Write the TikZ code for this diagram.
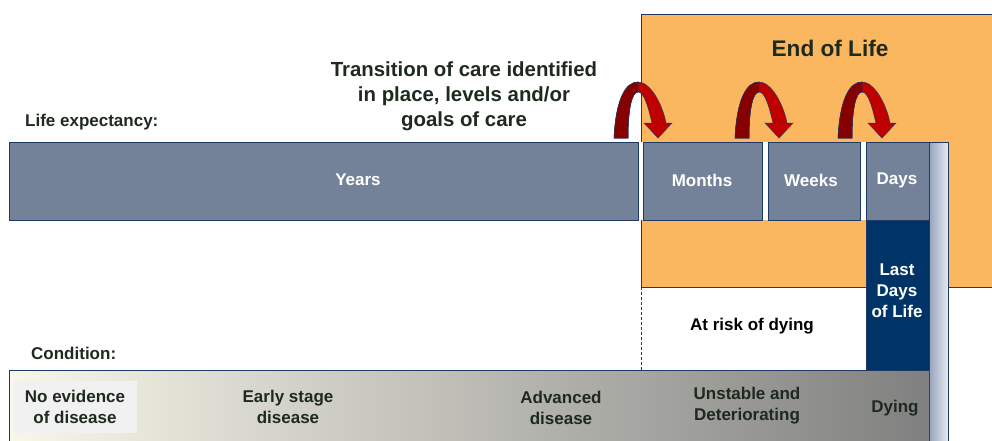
\documentclass[tikz,border=0pt]{standalone}
\usepackage{fontspec}
\setmainfont{Liberation Sans}
\usetikzlibrary{positioning}

\definecolor{slate}{RGB}{116,130,153}
\definecolor{framenavy}{RGB}{31,56,100}
\definecolor{eolorange}{RGB}{251,182,96}
\definecolor{lastnavy}{RGB}{0,51,102}
\definecolor{inkdark}{RGB}{30,42,30}
\definecolor{arrowred}{RGB}{192,0,0}
\definecolor{arrowdark}{RGB}{135,0,0}
\definecolor{condlight}{RGB}{248,247,234}
\definecolor{condmid}{RGB}{208,208,198}
\definecolor{conddark}{RGB}{128,128,128}
\definecolor{noevid}{RGB}{241,241,241}
\definecolor{stripdark}{RGB}{150,163,188}
\definecolor{striplight}{RGB}{230,234,242}

\tikzset{
	lifebox/.style={draw=framenavy, line width=0.8pt, fill=slate},
	whitelbl/.style={text=white, inner sep=0pt, font=\bfseries\fontsize{17}{21}\selectfont, align=center},
	darklbl/.style={text=inkdark, inner sep=0pt, font=\bfseries\fontsize{17}{21}\selectfont, align=center},
	headlbl/.style={text=inkdark, inner sep=0pt, font=\bfseries\fontsize{20.4}{25}\selectfont, align=center},
	uturn/.pic={
		% whole ribbon, bright side
		\filldraw[fill=arrowred, draw=framenavy, line width=0.5pt]
			(-44,0) .. controls (-42,40) and (-32,56) .. (-20,56)
			.. controls (-8,56) and (4,35) .. (8,15)
			-- (14,15) -- (0,0) -- (-14,15) -- (-6,15)
			.. controls (-10,32) and (-14,46) .. (-20,46)
			.. controls (-26,46) and (-30,30) .. (-30,0) -- cycle;
		% dark left leg
		\filldraw[fill=arrowdark, draw=framenavy, line width=0.5pt]
			(-44,0) .. controls (-42,40) and (-32,56) .. (-20,56)
			-- (-20,46) .. controls (-26,46) and (-30,30) .. (-30,0) -- cycle;
	}
}

\begin{document}
\begin{tikzpicture}[x=1pt, y=1pt]
	\useasboundingbox (0,0) rectangle (992,440);

% END OF LIFE

	\draw[framenavy, line width=0.8pt, fill=eolorange]
		(995,426) -- (641,426) -- (641,153) -- (995,153);
	\node[headlbl, font=\bfseries\fontsize{22.6}{27}\selectfont] (eol) at (830,392) {End of Life};

% LIFE EXPECTANCY

	\fill[white] (9,220) rectangle (929,298);
	\draw[lifebox] (9,220) rectangle (638,298);
	\draw[lifebox] (643,220) rectangle (762,298);
	\draw[lifebox] (768,220) rectangle (860,298);
	\draw[lifebox] (866,220) rectangle (929,298);

	% side strip
	\draw[framenavy, line width=0.8pt, left color=stripdark, right color=striplight]
		(929,-5) rectangle (948,298);

	\node[darklbl, anchor=west] (lifeexp) at (25,318) {Life expectancy:};
	\node[whitelbl] (years) at (358,260) {Years};
	\node[whitelbl] (months) at (702,260) {Months};
	\node[whitelbl] (weeks) at (811,260) {Weeks};
	\node[whitelbl] (days) at (897,260) {Days};

	% transitions
	\foreach \tx in {658,779,882}
		\pic at (\tx,302) {uturn};
	\node[headlbl] (transition) at (464,344)
		{Transition of care identified\\in place, levels and/or\\goals of care};

% CONDITION

	\draw[lifebox, fill=lastnavy] (866,70) rectangle (929,220);
	\node[whitelbl] (lastdays) at (897,149) {Last\\Days\\of Life};

	\draw[framenavy, densely dashed, line width=0.6pt] (641,153) -- (641,70);
	\node[darklbl, text=black] (atrisk) at (752,114) {At risk of dying};

	\fill[left color=condlight, middle color=condmid, right color=conddark]
		(9,-5) rectangle (929,70);
	\draw[framenavy, line width=0.8pt] (9,-5) -- (9,70) -- (929,70);
	\fill[noevid] (14,7) rectangle (137,59);

	\node[darklbl, anchor=west] (condition) at (31,87) {Condition:};
	\node[darklbl] (noevidence) at (75,33) {No evidence\\of disease};
	\node[darklbl] (early) at (288,33) {Early stage\\disease};
	\node[darklbl] (advanced) at (561,32) {Advanced\\disease};
	\node[darklbl] (unstable) at (747,34) {Unstable and\\Deteriorating};
	\node[darklbl] (dying) at (895,32) {Dying};

\end{tikzpicture}
\end{document}
